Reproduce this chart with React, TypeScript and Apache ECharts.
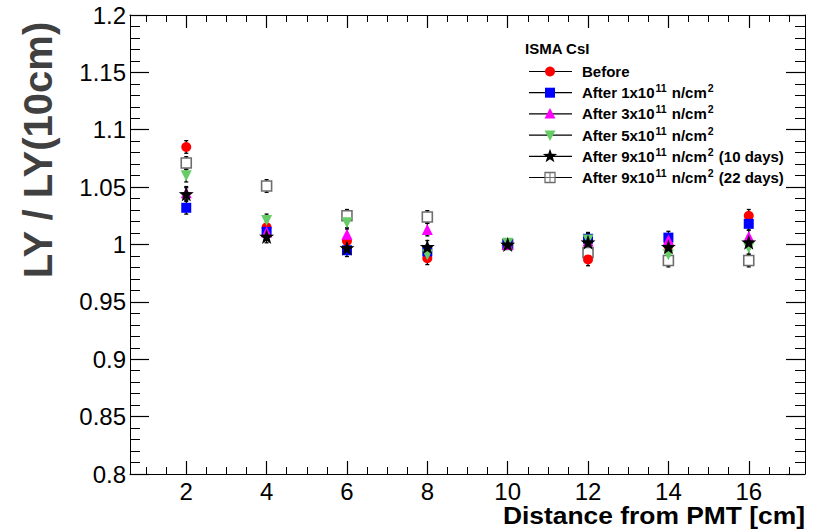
import React, { useEffect, useRef } from 'react';
import * as echarts from 'echarts';

const distances = [2, 4, 6, 8, 10, 12, 14, 16];
const before = [1.085, 1.015, 1.003, 0.988, 1.0, 0.987, 0.999, 1.025];
const after1e11 = [1.032, 1.011, 0.995, 0.994, 1.0, 1.005, 1.006, 1.018];
const after3e11 = [1.045, 1.011, 1.009, 1.013, 1.0, 1.003, 1.004, 1.007];
const after5e11 = [1.06, 1.021, 1.019, 0.991, 1.001, 1.004, 0.991, 0.997];
const after9e11d10 = [1.044, 1.007, 0.997, 0.998, 1.0, 1.002, 0.998, 1.002];
const after9e11d22 = [1.071, 1.051, 1.025, 1.024, 1.0, 0.993, 0.986, 0.986];
const errHalf = [0.0055, 0.0055, 0.0055, 0.0055, 0.004, 0.0055, 0.0055, 0.0055];

const xMajorTicks = [2, 4, 6, 8, 10, 12, 14, 16];
const xMinorTicks = [1, 1.5, 2.5, 3, 3.5, 4.5, 5, 5.5, 6.5, 7, 7.5, 8.5, 9, 9.5, 10.5, 11, 11.5, 12.5, 13, 13.5, 14.5, 15, 15.5, 16.5, 17];

const legendTitle = 'ISMA CsI';
const legendLabels = [
  'Before',
  'After 1x10{sup|11} n/cm{sup|2}',
  'After 3x10{sup|11} n/cm{sup|2}',
  'After 5x10{sup|11} n/cm{sup|2}',
  'After 9x10{sup|11} n/cm{sup|2} (10 days)',
  'After 9x10{sup|11} n/cm{sup|2} (22 days)',
];
const seriesNames = [
  'Before',
  'After 1x10^11 n/cm^2',
  'After 3x10^11 n/cm^2',
  'After 5x10^11 n/cm^2',
  'After 9x10^11 n/cm^2 (10 days)',
  'After 9x10^11 n/cm^2 (22 days)',
];

const FONT = '"Liberation Sans", Arial, Helvetica, sans-serif';
const STAR = 'path://M0,-10 L2.35,-3.24 L9.51,-3.09 L3.8,1.24 L5.88,8.09 L0,4 L-5.88,8.09 L-3.8,1.24 L-9.51,-3.09 L-2.35,-3.24 Z';

const styles = [
  { symbol: 'circle', size: 10, color: '#ff0000', border: '#ff0000', bw: 0, rotate: 0, z: 4 },
  { symbol: 'rect', size: 10, color: '#0000ff', border: '#0000ff', bw: 0, rotate: 0, z: 5 },
  { symbol: 'triangle', size: 11, color: '#ff00ff', border: '#ff00ff', bw: 0, rotate: 0, z: 6 },
  { symbol: 'triangle', size: 11, color: '#66cc66', border: '#66cc66', bw: 0, rotate: 180, z: 7 },
  { symbol: STAR, size: 15, color: '#000000', border: '#000000', bw: 0, rotate: 0, z: 8 },
  { symbol: 'rect', size: 10, color: '#ffffff', border: '#6e6e6e', bw: 1.6, rotate: 0, z: 3 },
];
const datasets = [before, after1e11, after3e11, after5e11, after9e11d10, after9e11d22];

function starPoints(cx: number, cy: number, ro: number, ri: number) {
  const pts: number[][] = [];
  for (let k = 0; k < 10; k++) {
    const r = k % 2 === 0 ? ro : ri;
    const a = -Math.PI / 2 + (k * Math.PI) / 5;
    pts.push([cx + r * Math.cos(a), cy + r * Math.sin(a)]);
  }
  return pts;
}

function legendMarker(i: number, cx: number, cy: number): any[] {
  const s = styles[i];
  switch (i) {
    case 0:
      return [{ type: 'circle', shape: { cx, cy, r: 5 }, style: { fill: s.color } }];
    case 1:
      return [{ type: 'rect', shape: { x: cx - 5, y: cy - 5, width: 10, height: 10 }, style: { fill: s.color } }];
    case 2:
      return [{ type: 'polygon', shape: { points: [[cx, cy - 6], [cx + 5.5, cy + 4.5], [cx - 5.5, cy + 4.5]] }, style: { fill: s.color } }];
    case 3:
      return [{ type: 'polygon', shape: { points: [[cx, cy + 6], [cx + 5.5, cy - 4.5], [cx - 5.5, cy - 4.5]] }, style: { fill: s.color } }];
    case 4:
      return [{ type: 'polygon', shape: { points: starPoints(cx, cy, 7.5, 3) }, style: { fill: s.color } }];
    default:
      return [
        { type: 'rect', shape: { x: cx - 5, y: cy - 5, width: 10, height: 10 }, style: { fill: '#fff', stroke: s.border, lineWidth: 1.3 } },
        { type: 'line', shape: { x1: cx, y1: cy - 5, x2: cx, y2: cy + 5 }, style: { stroke: s.border, lineWidth: 1 } },
        { type: 'line', shape: { x1: cx - 5, y1: cy, x2: cx + 5, y2: cy }, style: { stroke: s.border, lineWidth: 1 } },
      ];
  }
}

export default function App() {
  const ref = useRef<HTMLDivElement>(null);
  useEffect(() => {
    if (!ref.current) return;
    const chart = echarts.init(ref.current, undefined, { renderer: 'svg' });

    const axisLine = { show: true, lineStyle: { color: '#000', width: 1 } };
    const xRange = { type: 'value' as const, min: 0.6, max: 17.4 };
    const yRange = { type: 'value' as const, min: 0.8, max: 1.2, interval: 0.05 };

    const series: any[] = [];
    datasets.forEach((d, i) => {
      series.push({
        type: 'custom',
        name: seriesNames[i] + ' err',
        xAxisIndex: 0,
        yAxisIndex: 0,
        silent: true,
        z: 2,
        data: d.map((v, j) => [distances[j], v, errHalf[j]]),
        renderItem: (params: any, api: any) => {
          const x = api.value(0);
          const y = api.value(1);
          const e = api.value(2);
          const t = api.coord([x, y + e]);
          const b = api.coord([x, y - e]);
          const st = { stroke: '#000', lineWidth: 1.3 };
          return {
            type: 'group',
            children: [
              { type: 'line', shape: { x1: t[0], y1: t[1], x2: b[0], y2: b[1] }, style: st },
              { type: 'line', shape: { x1: t[0] - 2, y1: t[1], x2: t[0] + 2, y2: t[1] }, style: st },
              { type: 'line', shape: { x1: b[0] - 2, y1: b[1], x2: b[0] + 2, y2: b[1] }, style: st },
            ],
          };
        },
      });
    });
    datasets.forEach((d, i) => {
      const s = styles[i];
      series.push({
        type: 'scatter',
        name: seriesNames[i],
        xAxisIndex: 0,
        yAxisIndex: 0,
        z: s.z,
        symbol: s.symbol,
        symbolSize: s.size,
        symbolRotate: s.rotate,
        itemStyle: { color: s.color, borderColor: s.border, borderWidth: s.bw, opacity: 1 },
        data: d.map((v, j) => [distances[j], v]),
      });
    });

    const legendX0 = 529;
    const legendX1 = 572;
    const legendMX = 550;
    const legendTX = 582;
    const legendY0 = 71.5;
    const legendDY = 21.2;
    const graphics: any[] = [
      {
        type: 'text',
        x: 38,
        y: 150,
        rotation: Math.PI / 2,
        style: {
          text: 'LY / LY(10cm)',
          fill: '#404040',
          font: `bold 40px ${FONT}`,
          textAlign: 'center',
          textVerticalAlign: 'middle',
        },
      },
      {
        type: 'text',
        x: 805,
        y: 515,
        scaleX: 1.1,
        style: {
          text: 'Distance from PMT [cm]',
          fill: '#000',
          font: `bold 24px ${FONT}`,
          lineHeight: 22,
          textAlign: 'right',
          textVerticalAlign: 'middle',
        },
      },
      {
        type: 'text',
        x: 525,
        y: 48,
        style: {
          text: legendTitle,
          fill: '#000',
          font: `bold 15px ${FONT}`,
          textAlign: 'left',
          textVerticalAlign: 'middle',
        },
      },
    ];
    legendLabels.forEach((lab, i) => {
      const cy = legendY0 + legendDY * i;
      graphics.push({
        type: 'line',
        shape: { x1: legendX0, y1: cy, x2: legendX1, y2: cy },
        style: { stroke: '#000', lineWidth: 1.2 },
      });
      legendMarker(i, legendMX, cy).forEach((g) => graphics.push(g));
      graphics.push({
        type: 'text',
        x: legendTX,
        y: cy,
        style: {
          text: lab,
          fill: '#000',
          fontFamily: FONT,
          fontWeight: 'bold',
          fontSize: 15,
          lineHeight: 20,
          textAlign: 'left',
          textVerticalAlign: 'middle',
          rich: {
            sup: { fontSize: 10.5, fontWeight: 'bold', fontFamily: FONT, lineHeight: 10, verticalAlign: 'top', fill: '#000', padding: [0, 1, 0, 1] },
          },
        },
      });
    });

    chart.setOption({
      animation: false,
      backgroundColor: '#ffffff',
      grid: { left: 130, right: 8, top: 15, bottom: 55, containLabel: false },
      xAxis: [
        {
          ...xRange,
          position: 'bottom',
          axisLine,
          axisTick: { show: true, inside: true, length: 13, customValues: xMajorTicks, lineStyle: { color: '#000', width: 1.2 } },
          axisLabel: { show: true, customValues: xMajorTicks, fontSize: 24, lineHeight: 18, fontFamily: FONT, color: '#000', margin: 8 },
          splitLine: { show: false },
        },
        {
          ...xRange,
          position: 'bottom',
          axisLine: { show: false },
          axisTick: { show: true, inside: true, length: 7, customValues: xMinorTicks, lineStyle: { color: '#000', width: 1 } },
          axisLabel: { show: false },
          splitLine: { show: false },
        },
        {
          ...xRange,
          position: 'top',
          axisLine,
          axisTick: { show: true, inside: true, length: 13, customValues: xMajorTicks, lineStyle: { color: '#000', width: 1.2 } },
          axisLabel: { show: false },
          splitLine: { show: false },
        },
        {
          ...xRange,
          position: 'top',
          axisLine: { show: false },
          axisTick: { show: true, inside: true, length: 7, customValues: xMinorTicks, lineStyle: { color: '#000', width: 1 } },
          axisLabel: { show: false },
          splitLine: { show: false },
        },
      ],
      yAxis: [
        {
          ...yRange,
          position: 'left',
          axisLine,
          axisTick: { show: true, inside: true, length: 19, lineStyle: { color: '#000', width: 1.2 } },
          minorTick: { show: true, splitNumber: 5, length: 10, lineStyle: { color: '#000', width: 1 } },
          axisLabel: {
            show: true,
            fontSize: 24,
            fontFamily: FONT,
            color: '#000',
            margin: 4,
            showMinLabel: true,
            showMaxLabel: true,
            formatter: (v: number) => String(parseFloat(v.toFixed(2))),
          },
          splitLine: { show: false },
          minorSplitLine: { show: false },
        },
        {
          ...yRange,
          position: 'right',
          axisLine,
          axisTick: { show: true, inside: true, length: 19, lineStyle: { color: '#000', width: 1.2 } },
          minorTick: { show: true, splitNumber: 5, length: 10, lineStyle: { color: '#000', width: 1 } },
          axisLabel: { show: false },
          splitLine: { show: false },
          minorSplitLine: { show: false },
        },
      ],
      graphic: graphics,
      series,
    });
    return () => chart.dispose();
  }, []);
  return (
    <div
      ref={ref}
      style={{ position: 'absolute', left: 0, top: 0, width: 813, height: 529, background: '#fff' }}
    />
  );
}
